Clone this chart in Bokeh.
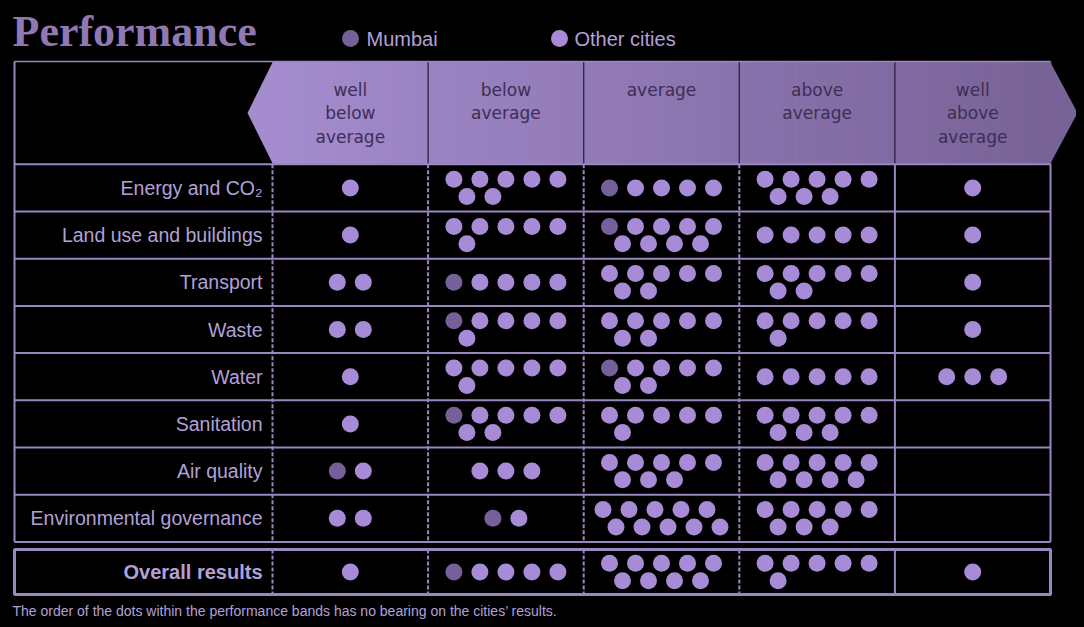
import numpy as np
from bokeh.plotting import figure
from bokeh.models import Range1d
from bokeh.embed import file_html
from bokeh.resources import INLINE
from bokeh.core.properties import value

# ---------------- data ----------------
categories = ["Energy and CO\u2082", "Land use and buildings", "Transport", "Waste",
              "Water", "Sanitation", "Air quality", "Environmental governance",
              "Overall results"]
band_labels = [["well", "below", "average"], ["below", "average"], ["average"],
               ["above", "average"], ["well", "above", "average"]]
well_below = [1, 1, 2, 2, 1, 1, 2, 2, 1]
below_avg = [7, 6, 5, 6, 6, 7, 3, 2, 5]
average = [5, 9, 7, 7, 7, 6, 8, 10, 9]
above_avg = [8, 5, 7, 6, 5, 8, 9, 8, 6]
well_above = [1, 1, 1, 1, 3, 0, 0, 0, 1]
mumbai_band = [2, 2, 1, 1, 2, 1, 0, 1, 1]   # index of the band holding Mumbai
title = "Performance"
footnote = "The order of the dots within the performance bands has no bearing on the cities\u2019 results."

counts = [well_below, below_avg, average, above_avg, well_above]

# ---------------- style ----------------
BG = "#000000"
LINE = "#9a86c0"
OTHER = "#a88bd6"
MUMBAI = "#76609a"
LABEL = "#b3a0d8"
HEAD_TXT = "#3c2e55"
HEAD_L = (0xa4, 0x8c, 0xce)
HEAD_R = (0x78, 0x62, 0x96)

W, H = 1068, 611
p = figure(width=W, height=H, x_range=Range1d(8, 8 + W), y_range=Range1d(8 + H, 8),
           output_backend="svg", toolbar_location=None, x_axis_type=None,
           y_axis_type=None, min_border=0)
p.background_fill_color = BG
p.border_fill_color = BG
p.outline_line_color = None

# geometry
X0, C0, CW = 14, 272, 155.6
XR = C0 + 5 * CW
HT, HB, RH = 61, 163.8, 47.2
TB = HB + 8 * RH
OT, OB = 549, 594
edges = [C0 + i * CW for i in range(6)]

# ---------------- header (gradient arrow) ----------------
def mix(t):
    c = [int(round(HEAD_L[k] + (HEAD_R[k] - HEAD_L[k]) * t)) for k in range(3)]
    return "#%02x%02x%02x" % tuple(c)

nstrip = 130
sw = (XR - C0) / nstrip
lefts = [C0 + i * sw for i in range(nstrip)]
p.quad(left=lefts, right=[l + sw + 0.8 for l in lefts], top=HT, bottom=HB,
       fill_color=[mix(i / (nstrip - 1)) for i in range(nstrip)], line_color=None)
mid = (HT + HB) / 2
p.patch([C0 + 0.5, 247, C0 + 0.5], [HT, mid, HB], fill_color=mix(0), line_color=None)
p.patch([XR - 0.5, 1077, XR - 0.5], [HT, mid, HB], fill_color=mix(1), line_color=None)
p.segment(x0=edges[1:5], y0=HT, x1=edges[1:5], y1=HB, line_color="#2c2140", line_width=1.3)

for b, lines in enumerate(band_labels):
    cx = (edges[b] + edges[b + 1]) / 2
    p.text(x=[cx] * len(lines), y=[89 + 23.5 * i for i in range(len(lines))], text=lines,
           text_font=value("DejaVu Sans"), text_font_size="17px", text_align="center",
           text_baseline="middle", text_color=HEAD_TXT)

# ---------------- grid ----------------
p.segment(x0=X0, y0=HT, x1=XR, y1=HT, line_color=LINE, line_width=1.5)
ys = [HB + k * RH for k in range(9)]
p.segment(x0=[X0] * 9, y0=ys, x1=[XR] * 9, y1=ys, line_color=LINE, line_width=2)
p.segment(x0=X0, y0=HT, x1=X0, y1=TB, line_color=LINE, line_width=2)
p.segment(x0=XR, y0=HB, x1=XR, y1=TB, line_color=LINE, line_width=2)
p.segment(x0=edges[:4], y0=HB, x1=edges[:4], y1=TB, line_color=LINE, line_width=2, line_dash="4 2")
p.segment(x0=edges[4], y0=HB, x1=edges[4], y1=TB, line_color=LINE, line_width=2)
# overall box
p.quad(left=X0, right=XR, top=OT, bottom=OB, fill_color=None, line_color=LINE, line_width=3)
p.segment(x0=edges[:4], y0=OT, x1=edges[:4], y1=OB, line_color=LINE, line_width=2, line_dash="4 2")
p.segment(x0=edges[4], y0=OT, x1=edges[4], y1=OB, line_color=LINE, line_width=2)

# ---------------- dots ----------------
def layout(n):
    top = min(n, 5)
    bot = n - top
    xs = [i * 26.0 for i in range(top)] + [13 + i * 26.0 for i in range(bot)]
    yo = [(-8.7 if bot else 0.0)] * top + [8.7] * bot
    if xs:
        sh = (min(xs) + max(xs)) / 2
        xs = [x - sh for x in xs]
    return xs, yo

ox, oy, mx, my = [], [], [], []
for r in range(len(categories)):
    cy = HB + (r + 0.5) * RH if r < 8 else (OT + OB) / 2
    for b in range(5):
        xs, yo = layout(counts[b][r])
        cx = (edges[b] + edges[b + 1]) / 2
        for i, (dx, dy) in enumerate(zip(xs, yo)):
            if i == 0 and mumbai_band[r] == b:
                mx.append(cx + dx); my.append(cy + dy)
            else:
                ox.append(cx + dx); oy.append(cy + dy)
p.scatter(ox, oy, size=17, marker="circle", fill_color=OTHER, line_color=None)
p.scatter(mx, my, size=17, marker="circle", fill_color=MUMBAI, line_color=None)

# ---------------- labels ----------------
label_y = [HB + (r + 0.5) * RH for r in range(8)]
p.text(x=[262] * 8, y=label_y, text=categories[:8], text_font=value("Liberation Sans"),
       text_font_size="19.5px", text_align="right", text_baseline="middle", text_color=LABEL)
p.text(x=[262], y=[(OT + OB) / 2], text=[categories[8]], text_font=value("Liberation Sans"),
       text_font_size="20px", text_font_style="bold", text_align="right",
       text_baseline="middle", text_color=LABEL)

# title, legend, footnote
p.text(x=[12], y=[31], text=[title], text_font=value("Liberation Serif"), text_font_size="44px",
       text_font_style="bold", text_baseline="middle", text_color="#8f78b3")
p.scatter([350], [38], size=17, marker="circle", fill_color=MUMBAI, line_color=None)
p.scatter([559], [38], size=17, marker="circle", fill_color=OTHER, line_color=None)
p.text(x=[366, 574], y=[38, 38], text=["Mumbai", "Other cities"], text_font=value("Liberation Sans"),
       text_font_size="20px", text_baseline="middle", text_color=LABEL)
p.text(x=[12], y=[610], text=[footnote], text_font=value("Liberation Sans"), text_font_size="14px",
       text_baseline="middle", text_color=LABEL)

html = file_html(p, INLINE)
html = html.replace("</head>", "<style>html,body{background:#000;} body{margin:8px;}</style></head>", 1)
open("out.html", "w").write(html)
